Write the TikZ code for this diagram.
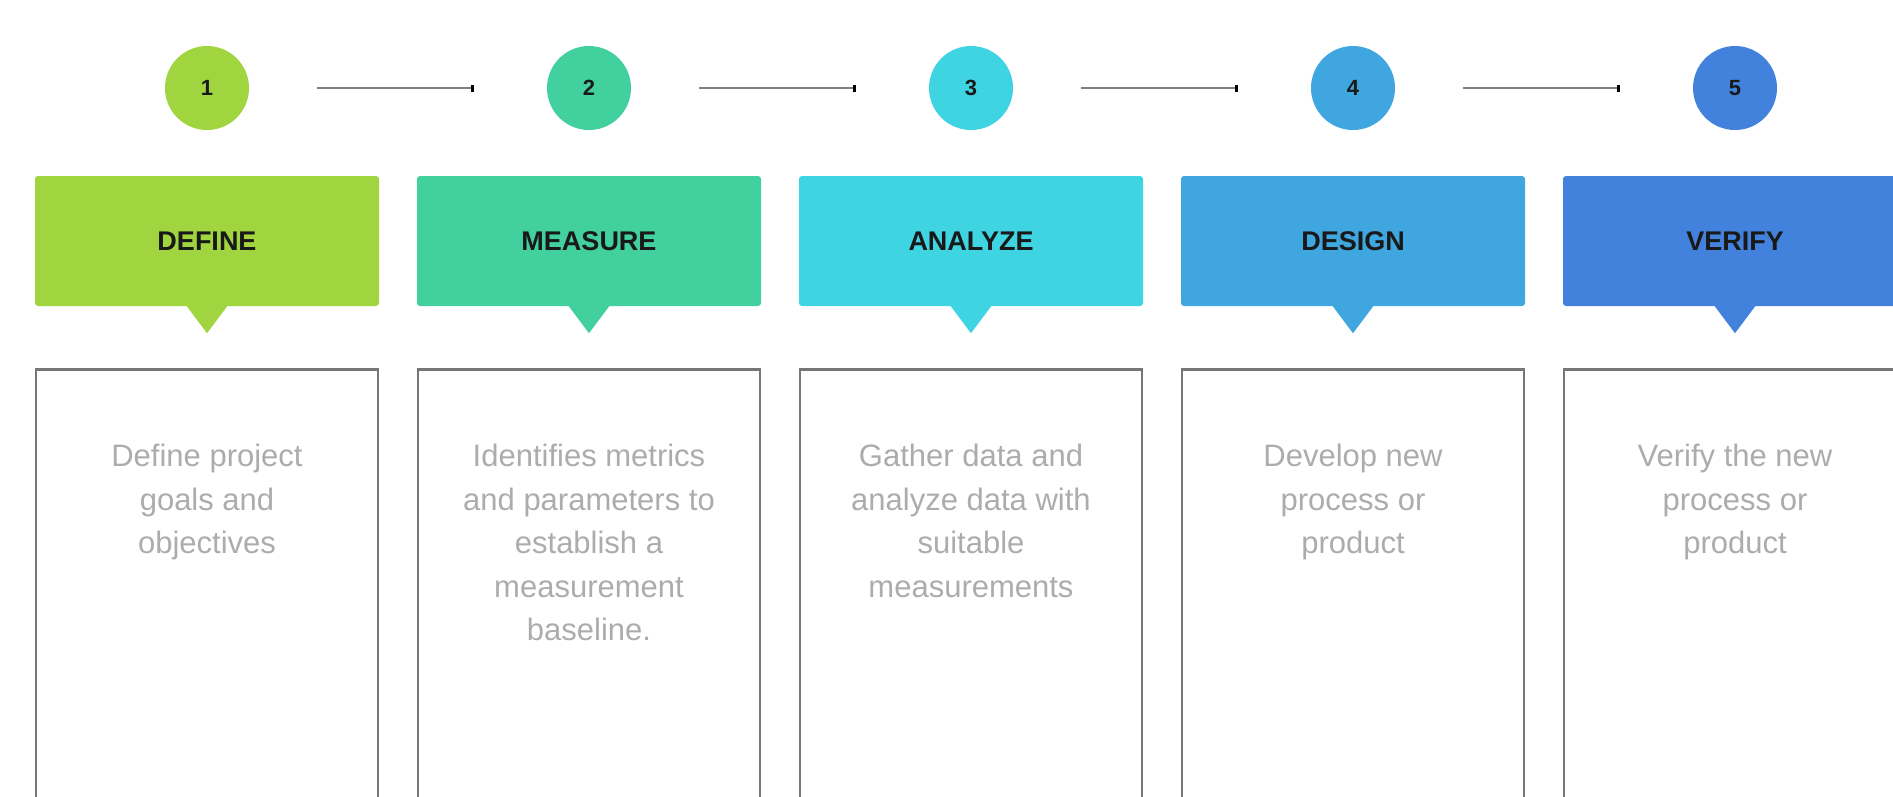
\documentclass[tikz,border=0pt]{standalone}
\usepackage{fontspec}
\setmainfont{Liberation Sans}
\usetikzlibrary{arrows.meta}
\definecolor{c1}{RGB}{160,213,64}
\definecolor{c2}{RGB}{66,208,159}
\definecolor{c3}{RGB}{63,212,226}
\definecolor{c4}{RGB}{63,166,223}
\definecolor{c5}{RGB}{66,130,221}
\definecolor{boxline}{RGB}{118,118,118}
\definecolor{bodytext}{RGB}{172,172,172}
\definecolor{linkline}{RGB}{128,128,128}
\tikzset{
  numcircle/.style={circle,minimum size=84pt,inner sep=0pt,fill=#1,
    font=\fontsize{22}{26}\selectfont\bfseries,text=black!90},
  titlebox/.style={rectangle,rounded corners=3pt,minimum width=344pt,minimum height=130pt,
    inner sep=0pt,fill=#1,font=\fontsize{27}{32}\selectfont\bfseries,text=black!90},
  textbox/.style={rectangle,draw=boxline,line width=2.6pt,minimum width=342pt,
    minimum height=470pt,anchor=north,inner sep=0pt},
  bodytxt/.style={anchor=north,inner sep=0pt,align=center,text=bodytext,
    font=\fontsize{31}{43.5}\selectfont},
  link/.style={draw=linkline,line width=2.6pt,shorten <=68pt,shorten >=73pt,
    -{Rectangle[length=3pt,width=7pt,black]}},
}
\begin{document}
\begin{tikzpicture}[x=1pt,y=-1pt]
\useasboundingbox (0,0) rectangle (1893,796);
\clip (0,0) rectangle (1893,796);
% numbered circles
\node[numcircle=c1] (n1) at (207,88) {1};
\node[numcircle=c2] (n2) at (589,88) {2};
\node[numcircle=c3] (n3) at (971,88) {3};
\node[numcircle=c4] (n4) at (1353,88) {4};
\node[numcircle=c5] (n5) at (1735,88) {5};
% connectors
\draw[link] (n1) -- (n2);
\draw[link] (n2) -- (n3);
\draw[link] (n3) -- (n4);
\draw[link] (n4) -- (n5);
% title boxes
\node[titlebox=c1] (d1) at (207,241) {DEFINE};
\node[titlebox=c2] (d2) at (589,241) {MEASURE};
\node[titlebox=c3] (d3) at (971,241) {ANALYZE};
\node[titlebox=c4] (d4) at (1353,241) {DESIGN};
\node[titlebox=c5] (d5) at (1735,241) {VERIFY};
\foreach \i in {1,...,5}{
  \fill[c\i] ([xshift=-21pt,yshift=1pt]d\i.south) -- ([yshift=-27pt]d\i.south) -- ([xshift=21pt,yshift=1pt]d\i.south) -- cycle;
}
% text boxes
\node[textbox] (b1) at (207,368) {};
\node[textbox] (b2) at (589,368) {};
\node[textbox] (b3) at (971,368) {};
\node[textbox] (b4) at (1353,368) {};
\node[textbox] (b5) at (1735,368) {};
% body texts
\node[bodytxt] (t1) at (207,444) {Define project\\goals and\\objectives};
\node[bodytxt] (t2) at (589,444) {Identifies metrics\\and parameters to\\establish a\\measurement\\baseline.};
\node[bodytxt] (t3) at (971,444) {Gather data and\\analyze data with\\suitable\\measurements};
\node[bodytxt] (t4) at (1353,444) {Develop new\\process or\\product};
\node[bodytxt] (t5) at (1735,444) {Verify the new\\process or\\product};
\end{tikzpicture}
\end{document}
